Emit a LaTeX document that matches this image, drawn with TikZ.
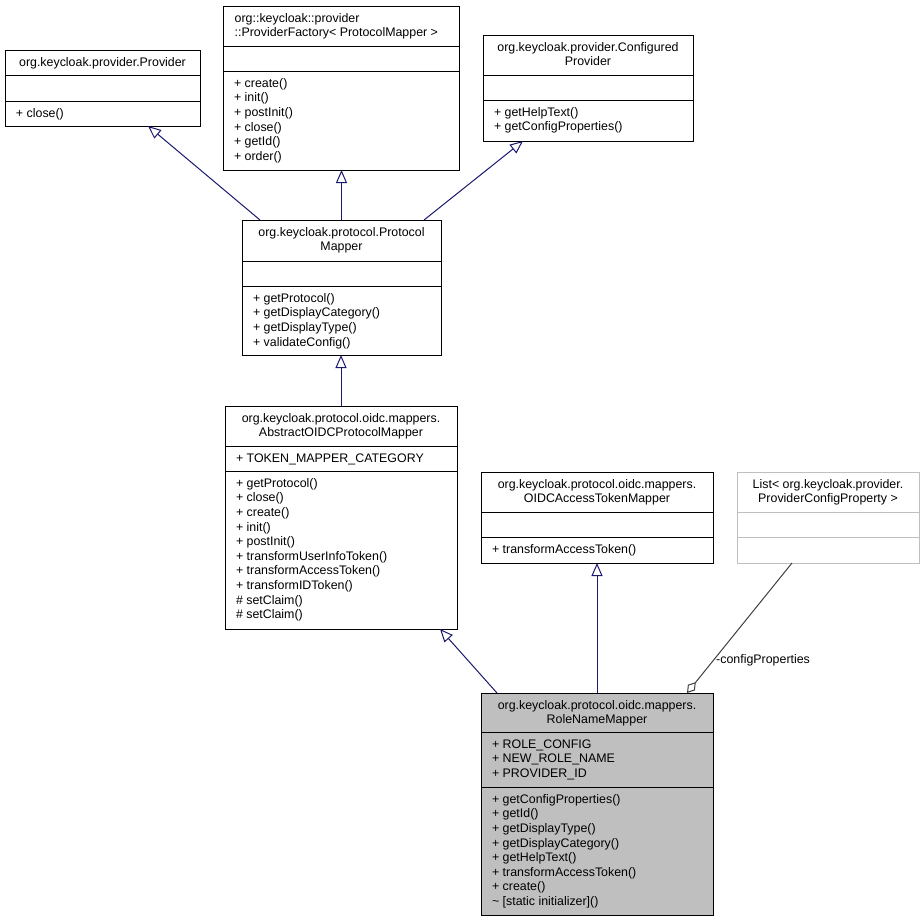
\documentclass[tikz,border=0pt]{standalone}
\usepackage{fontspec}
\setmainfont{Liberation Sans}
\usetikzlibrary{arrows.meta}
\definecolor{edgeblue}{HTML}{191970}
\definecolor{aggray}{HTML}{404040}
\definecolor{lgray}{HTML}{BFBFBF}
\definecolor{boxfill}{HTML}{BFBFBF}
\tikzset{
  box/.style={draw=black, line width=1pt, inner sep=0pt, outer sep=0pt},
  txt/.style={inner sep=0pt, font=\fontsize{12.4}{14.6}\selectfont},
  ttl/.style={txt, anchor=base},
  ttlw/.style={txt, anchor=base west},
  mem/.style={txt, anchor=base west},
  inh/.style={draw=edgeblue, line width=1pt, -{Triangle[open, length=13pt, width=11pt]}},
  agg/.style={draw=aggray, line width=1pt, {Diamond[open, length=14pt, width=9pt]}-},
}
\newcommand\umlclass[8][]{%
  \node[box,#1, anchor=north west, minimum width={#5-#3}, minimum height={#6-#4}] (#2) at (#3,#4) {};
  \draw[box,#1,fill=none] (#3,#7) -- (#5,#7) (#3,#8) -- (#5,#8);
}
\newcommand\umllines[5]{%
  \foreach \t [count=\i from 0] in {#5} {\node[#2] (#1\i) at (#3, {#4+16.3+14.6*\i}) {\t};}
}
\begin{document}
\begin{tikzpicture}[x=1pt, y=-1pt]
\fill[white] (0,0) rectangle (924,921);
\useasboundingbox (0,0) rectangle (924,921);

% Provider
\umlclass{prov}{5}{50}{200}{126}{75}{101}
\umllines{prov-t}{ttl}{102.5}{50}{org.keycloak.provider.Provider}
\umllines{prov-m}{mem}{15.8}{101}{+ close()}

% ProviderFactory
\umlclass{fact}{223}{6}{459}{170}{46}{71}
\umllines{fact-t}{ttlw}{234.5}{6}{org::keycloak::provider, ::ProviderFactory< ProtocolMapper >}
\umllines{fact-m}{mem}{233.8}{71}{+ create(), + init(), + postInit(), + close(), + getId(), + order()}

% ConfiguredProvider
\umlclass{conf}{483}{35}{693}{141}{75}{100}
\umllines{conf-t}{ttl}{588}{35}{org.keycloak.provider.Configured, Provider}
\umllines{conf-m}{mem}{493.8}{100}{+ getHelpText(), + getConfigProperties()}

% ProtocolMapper
\umlclass{pm}{242}{220}{441}{355}{261}{286}
\umllines{pm-t}{ttl}{341.5}{220}{org.keycloak.protocol.Protocol, Mapper}
\umllines{pm-m}{mem}{252.8}{286}{+ getProtocol(), + getDisplayCategory(), + getDisplayType(), + validateConfig()}

% AbstractOIDCProtocolMapper
\umlclass{abs}{225}{406}{457}{629}{446}{471}
\umllines{abs-t}{ttl}{341}{406}{org.keycloak.protocol.oidc.mappers., AbstractOIDCProtocolMapper}
\umllines{abs-a}{mem}{235.8}{446}{+ TOKEN\_MAPPER\_CATEGORY}
\umllines{abs-m}{mem}{235.8}{471}{+ getProtocol(), + close(), + create(), + init(), + postInit(), + transformUserInfoToken(), + transformAccessToken(), + transformIDToken(), \# setClaim(), \# setClaim()}

% OIDCAccessTokenMapper
\umlclass{oat}{481}{472}{713}{563}{512}{537}
\umllines{oat-t}{ttl}{597}{472}{org.keycloak.protocol.oidc.mappers., OIDCAccessTokenMapper}
\umllines{oat-m}{mem}{491.8}{537}{+ transformAccessToken()}

% List< ProviderConfigProperty >
\umlclass[draw=lgray]{list}{737}{472}{919}{563}{512}{537}
\umllines{list-t}{ttl}{828}{472}{List< org.keycloak.provider., ProviderConfigProperty >}

% RoleNameMapper
\umlclass[fill=boxfill]{rnm}{481}{693}{713}{915}{732}{787}
\umllines{rnm-t}{ttl}{597}{693}{org.keycloak.protocol.oidc.mappers., RoleNameMapper}
\umllines{rnm-a}{mem}{491.8}{732}{+ ROLE\_CONFIG, + NEW\_ROLE\_NAME, + PROVIDER\_ID}
\umllines{rnm-m}{mem}{491.8}{787}{+ getConfigProperties(), + getId(), + getDisplayType(), + getDisplayCategory(), + getHelpText(), + transformAccessToken(), + create(), \textasciitilde{} [static initializer]()}

% connectors
\draw[inh] ([xshift=18pt]pm.north west) -- ([xshift=143pt]prov.south west);
\draw[inh] (pm.north) -- (pm.north |- fact.south);
\draw[inh] ([xshift=182pt]pm.north west) -- ([xshift=40pt]conf.south west);
\draw[inh] (abs.north) -- (abs.north |- pm.south);
\draw[inh] ([xshift=16pt]rnm.north west) -- ([xshift=215pt]abs.south west);
\draw[inh] (rnm.north) -- (rnm.north |- oat.south);
\draw[agg] ([xshift=206pt]rnm.north west) -- ([xshift=55pt]list.south west);
\node[mem] (cfglbl) at (716,663.5) {-configProperties};
\end{tikzpicture}
\end{document}
